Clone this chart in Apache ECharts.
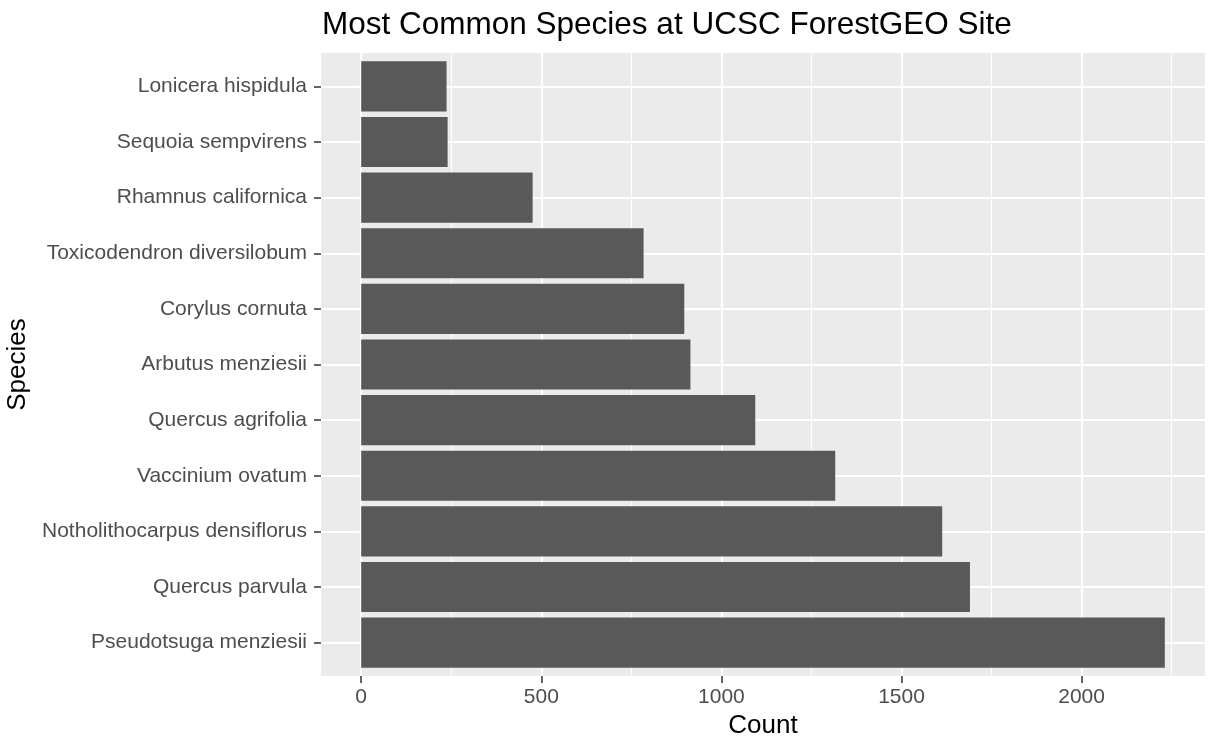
<!DOCTYPE html>
<html>
<head>
<meta charset="utf-8">
<script src="https://cdn.jsdelivr.net/npm/echarts@6/dist/echarts.min.js"></script>
<style>
  html, body { margin: 0; padding: 0; background: #fff; }
  #main { width: 1218px; height: 750px; }
</style>
</head>
<body>
<div id="main"></div>
<script>
// bottom to top, as ggplot stacks the factor levels
var species = [
  "Pseudotsuga menziesii",
  "Quercus parvula",
  "Notholithocarpus densiflorus",
  "Vaccinium ovatum",
  "Quercus agrifolia",
  "Arbutus menziesii",
  "Corylus cornuta",
  "Toxicodendron diversilobum",
  "Rhamnus californica",
  "Sequoia sempvirens",
  "Lonicera hispidula"
];
var counts = [2231, 1690, 1613, 1316, 1094, 914, 897, 784, 476, 240, 237];
var majorTicks = [0, 500, 1000, 1500, 2000];
var minorTicks = [250, 750, 1250, 1750, 2250];

var chartDom = document.getElementById('main');
var myChart = echarts.init(chartDom);
var option;

// ggplot default expansion: 5% of range on a continuous axis, 0.6 units on a discrete one
var maxCount = Math.max.apply(null, counts);
var pad = maxCount * 0.05;
var xMin = -pad, xMax = maxCount + pad;

var panel = { left: 321, top: 53, width: 884, height: 623 };
var unit = panel.height / (species.length - 1 + 1.2);
var innerTop = panel.top + 0.1 * unit;
var innerHeight = unit * species.length;

var font = "'Liberation Sans', Arial, Helvetica, sans-serif";

option = {
  animation: false,
  title: {
    text: 'Most Common Species at UCSC ForestGEO Site',
    left: 317,
    top: 4,
    textStyle: { fontFamily: font, fontSize: 31.5, fontWeight: 'normal', color: '#000' }
  },
  grid: [
    {
      left: panel.left, top: panel.top, width: panel.width, height: panel.height,
      show: true, backgroundColor: '#EBEBEB', borderWidth: 0,
      outerBoundsMode: 'none'
    },
    {
      left: panel.left, top: innerTop, width: panel.width, height: innerHeight,
      show: false, outerBoundsMode: 'none'
    }
  ],
  xAxis: [
    {
      gridIndex: 0,
      type: 'value',
      min: xMin,
      max: xMax,
      name: 'Count',
      nameLocation: 'middle',
      nameGap: 37,
      nameTextStyle: { fontFamily: font, fontSize: 26, color: '#000' },
      axisLine: { show: false, onZero: false },
      axisTick: { show: true, length: 7, customValues: majorTicks, lineStyle: { color: '#333', width: 1.5 } },
      axisLabel: {
        margin: 11, customValues: majorTicks, fontFamily: font, fontSize: 21, color: '#4D4D4D',
        formatter: function (v) { return String(v); }
      },
      splitLine: { show: true, lineStyle: { color: '#fff', width: 2.2 } }
    },
    {
      gridIndex: 0,
      type: 'value',
      min: xMin,
      max: xMax,
      axisLine: { show: false, onZero: false },
      axisTick: { show: false, customValues: minorTicks },
      axisLabel: { show: false, customValues: minorTicks },
      splitLine: { show: true, lineStyle: { color: '#fff', width: 1.1 } }
    },
    {
      gridIndex: 1,
      type: 'value',
      min: xMin,
      max: xMax,
      show: false,
      axisLine: { onZero: false },
      splitLine: { show: false }
    }
  ],
  yAxis: [
    {
      gridIndex: 0,
      type: 'value',
      min: 0,
      max: 1,
      show: false,
      axisLine: { onZero: false },
      splitLine: { show: false }
    },
    {
      gridIndex: 1,
      type: 'category',
      data: species,
      name: 'Species',
      nameLocation: 'middle',
      nameGap: 287,
      nameTextStyle: { fontFamily: font, fontSize: 26, color: '#000' },
      axisLine: { show: false, onZero: false },
      axisTick: { show: true, alignWithLabel: true, length: 7, lineStyle: { color: '#333', width: 1.5 } },
      axisLabel: { margin: 14, fontFamily: font, fontSize: 21, color: '#4D4D4D' },
      splitLine: { show: true, alignWithLabel: true, lineStyle: { color: '#fff', width: 2.2 } }
    }
  ],
  series: [
    {
      type: 'bar',
      xAxisIndex: 2,
      yAxisIndex: 1,
      data: counts,
      barCategoryGap: '10%',
      itemStyle: { color: '#595959' }
    }
  ]
};

option && myChart.setOption(option);
window.addEventListener("resize", function() {
    myChart.resize();
  });
</script>
</body>
</html>
